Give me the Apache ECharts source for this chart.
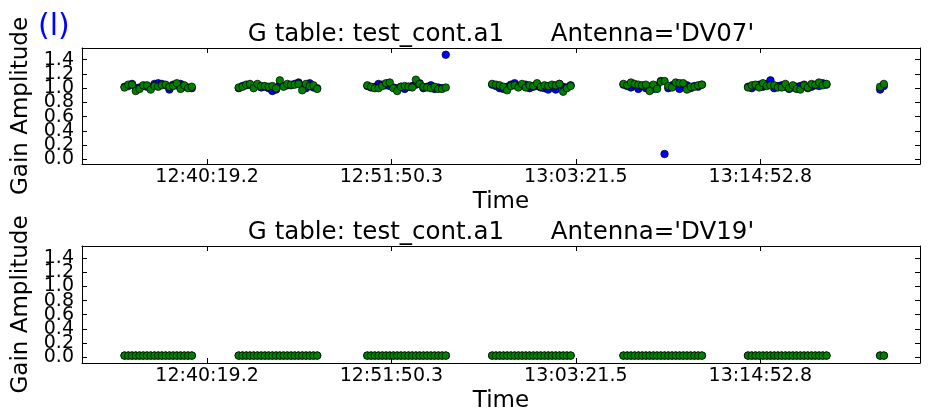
<!DOCTYPE html>
<html><head><meta charset="utf-8">
<script src="https://cdn.jsdelivr.net/npm/echarts@6/dist/echarts.min.js"></script>
<style>html,body{margin:0;padding:0;background:#fff}#c{width:938px;height:417px}</style>
</head><body><div id="c"></div>
<script>
// Time of each solution, seconds since midnight (UT)
const times = [
  45310,45324,45338,45352,45366,45380,45394,45408,45422,45436,45450,45464,45478,45492,45506,45520,45534,45548,45562,
  45738,45752,45766,45780,45794,45808,45822,45836,45850,45864,45878,45892,45906,45920,45934,45948,45962,45976,45990,46004,46018,46032,
  46220,46234,46248,46262,46276,46290,46304,46318,46332,46346,46360,46374,46388,46402,46416,46430,46444,46458,46472,46486,46500,46514,
  46688,46702,46716,46730,46744,46758,46772,46786,46800,46814,46828,46842,46856,46870,46884,46898,46912,46926,46940,46954,46968,46982,
  47180,47194,47208,47222,47236,47250,47264,47278,47292,47306,47320,47334,47348,47362,47376,47390,47404,47418,47432,47446,47460,47474,
  47647,47661,47675,47689,47703,47717,47731,47745,47759,47773,47787,47801,47815,47829,47843,47857,47871,47885,47899,47913,47927,47941,
  48142,48156
];
// DV07, polarization 1 (blue)
const dv07Pol1 = [
  1.02,1.03,1.06,1.00,1.01,1.03,1.02,1.01,1.06,1.07,1.06,1.04,0.98,1.05,1.04,1.06,1.02,1.01,1.00,
  1.00,1.03,1.04,1.05,1.02,1.04,1.01,1.02,1.00,0.96,0.98,1.05,1.03,1.04,1.04,1.06,1.08,1.03,1.00,1.07,1.01,1.00,
  1.03,1.01,1.02,1.06,1.05,1.04,1.03,1.01,1.00,1.02,0.99,1.02,1.03,1.05,1.07,1.00,1.02,1.04,0.99,1.01,1.00,1.47,
  1.05,1.03,1.00,0.99,1.02,1.05,1.07,1.03,1.04,1.05,1.00,1.02,1.03,1.01,1.00,0.98,1.03,0.98,1.06,1.02,1.01,1.04,
  1.05,1.03,1.01,1.04,0.99,1.03,1.00,1.02,0.99,1.03,1.10,0.075,1.00,1.04,1.03,0.99,1.06,1.04,1.00,1.03,1.02,1.05,
  1.02,1.00,1.03,1.05,1.02,1.06,1.11,1.00,1.03,1.04,1.02,0.99,1.01,1.02,1.03,1.05,1.00,1.02,1.04,1.03,1.07,1.05,
  0.98,1.03
];
// DV07, polarization 2 (green)
const dv07Pol2 = [
  1.01,1.05,1.05,0.96,0.99,1.04,1.04,0.98,1.03,1.02,1.04,1.05,1.02,1.03,1.07,0.99,1.04,1.00,1.02,
  1.01,1.02,1.05,1.06,1.00,1.06,1.03,1.03,1.02,1.03,1.00,1.11,1.02,1.06,1.05,1.05,1.06,0.97,1.06,1.03,1.04,0.99,
  1.04,1.02,1.00,1.00,1.03,1.07,1.08,1.00,0.96,1.02,1.03,1.02,1.01,1.12,1.06,1.02,1.01,1.00,1.02,0.99,0.99,1.01,
  1.06,1.05,1.04,1.02,0.97,1.03,1.04,1.01,1.06,1.01,1.04,1.03,1.07,1.02,1.04,1.03,1.05,1.04,1.06,0.95,1.00,1.03,
  1.06,1.04,1.08,1.06,1.05,1.04,1.05,0.96,1.05,0.99,1.09,1.10,1.03,1.01,1.08,1.07,1.07,0.98,1.02,1.02,1.04,1.05,
  1.01,1.04,1.05,1.01,1.07,1.03,1.04,1.04,1.01,1.01,1.06,1.00,1.04,0.99,0.98,1.04,1.01,1.06,1.05,1.08,1.04,1.06,
  1.02,1.06
];
// DV19, polarization 1 (blue) and 2 (green)
const dv19Pol1 = [
  0.02,0.02,0.02,0.02,0.02,0.02,0.02,0.02,0.02,0.02,0.02,0.02,0.02,0.02,0.02,0.02,0.02,0.02,0.02,
  0.02,0.02,0.02,0.02,0.02,0.02,0.02,0.02,0.02,0.02,0.02,0.02,0.02,0.02,0.02,0.02,0.02,0.02,0.02,0.02,0.02,0.02,
  0.02,0.02,0.02,0.02,0.02,0.02,0.02,0.02,0.02,0.02,0.02,0.02,0.02,0.02,0.02,0.02,0.02,0.02,0.02,0.02,0.02,0.02,
  0.02,0.02,0.02,0.02,0.02,0.02,0.02,0.02,0.02,0.02,0.02,0.02,0.02,0.02,0.02,0.02,0.02,0.02,0.02,0.02,0.02,0.02,
  0.02,0.02,0.02,0.02,0.02,0.02,0.02,0.02,0.02,0.02,0.02,0.02,0.02,0.02,0.02,0.02,0.02,0.02,0.02,0.02,0.02,0.02,
  0.02,0.02,0.02,0.02,0.02,0.02,0.02,0.02,0.02,0.02,0.02,0.02,0.02,0.02,0.02,0.02,0.02,0.02,0.02,0.02,0.02,0.02,
  0.02,0.02
];
const dv19Pol2 = [
  0.02,0.02,0.02,0.02,0.02,0.02,0.02,0.02,0.02,0.02,0.02,0.02,0.02,0.02,0.02,0.02,0.02,0.02,0.02,
  0.02,0.02,0.02,0.02,0.02,0.02,0.02,0.02,0.02,0.02,0.02,0.02,0.02,0.02,0.02,0.02,0.02,0.02,0.02,0.02,0.02,0.02,
  0.02,0.02,0.02,0.02,0.02,0.02,0.02,0.02,0.02,0.02,0.02,0.02,0.02,0.02,0.02,0.02,0.02,0.02,0.02,0.02,0.02,0.02,
  0.02,0.02,0.02,0.02,0.02,0.02,0.02,0.02,0.02,0.02,0.02,0.02,0.02,0.02,0.02,0.02,0.02,0.02,0.02,0.02,0.02,0.02,
  0.02,0.02,0.02,0.02,0.02,0.02,0.02,0.02,0.02,0.02,0.02,0.02,0.02,0.02,0.02,0.02,0.02,0.02,0.02,0.02,0.02,0.02,
  0.02,0.02,0.02,0.02,0.02,0.02,0.02,0.02,0.02,0.02,0.02,0.02,0.02,0.02,0.02,0.02,0.02,0.02,0.02,0.02,0.02,0.02,
  0.02,0.02
];
const timeTicks = [45619.2, 46310.3, 47001.5, 47692.8];
const timeTickLabels = ['12:40:19.2', '12:51:50.3', '13:03:21.5', '13:14:52.8'];
const ampTicks = [0, 0.2, 0.4, 0.6, 0.8, 1.0, 1.2, 1.4];
const ampTickLabels = ['0.0', '0.2', '0.4', '0.6', '0.8', '1.0', '1.2', '1.4'];
const panelTitles = ["G table: test_cont.a1      Antenna='DV07'", "G table: test_cont.a1      Antenna='DV19'"];
const panelTag = '(l)';

const FONT = 'DejaVu Sans';
const chart = echarts.init(document.getElementById('c'), null, {renderer: 'canvas'});
const lookup = (ticks, labels) => v => {
  const i = ticks.findIndex(t => Math.abs(t - v) < 1e-6);
  return i >= 0 ? labels[i] : '';
};
const pair = (xs, ys) => xs.map((x, i) => [x, ys[i]]);
// the tick labels overlap in the original; split them over two label layers so none is dropped
const evenTicks = ampTicks.filter((v, i) => i % 2 === 0);
const oddTicks = ampTicks.filter((v, i) => i % 2 === 1);

const grids = [
  {left: 82, top: 48, width: 838, height: 116, ymin: -0.066, ymax: 1.565},
  {left: 82, top: 246, width: 838, height: 117, ymin: -0.085, ymax: 1.574}
];
const XMIN = 45150.5, XMAX = 48291.5;
const line = {show: true, onZero: false, lineStyle: {color: '#000', width: 1}};
const tick = (vals) => ({show: true, inside: true, length: 5, customValues: vals, lineStyle: {color: '#000', width: 1}});
const yLabel = (vals) => ({customValues: vals, formatter: lookup(ampTicks, ampTickLabels), showMinLabel: true, showMaxLabel: true,
  hideOverlap: false, fontFamily: FONT, fontSize: 19, color: '#000', margin: 8});

const xAxes = [], yAxes = [], series = [];
grids.forEach((g, gi) => {
  xAxes.push({
    type: 'value', gridIndex: gi, position: 'bottom', min: XMIN, max: XMAX,
    axisLine: line, splitLine: {show: false}, axisTick: tick(timeTicks),
    axisLabel: {customValues: timeTicks, formatter: lookup(timeTicks, timeTickLabels), showMinLabel: true, showMaxLabel: true,
      fontFamily: FONT, fontSize: 19, color: '#000', margin: 4},
    name: 'Time', nameLocation: 'middle', nameGap: 27,
    nameTextStyle: {fontFamily: FONT, fontSize: 23, color: '#000'}
  });
  xAxes.push({
    type: 'value', gridIndex: gi, position: 'top', min: XMIN, max: XMAX,
    axisLine: line, splitLine: {show: false}, axisTick: tick(timeTicks), axisLabel: {show: false}
  });
  yAxes.push({
    type: 'value', gridIndex: gi, position: 'left', min: g.ymin, max: g.ymax,
    axisLine: line, splitLine: {show: false}, axisTick: tick(ampTicks),
    axisLabel: yLabel(evenTicks),
    name: 'Gain Amplitude', nameLocation: 'middle', nameRotate: 90, nameGap: 49,
    nameTextStyle: {fontFamily: FONT, fontSize: 23, color: '#000'}
  });
  yAxes.push({
    type: 'value', gridIndex: gi, position: 'right', min: g.ymin, max: g.ymax,
    axisLine: line, splitLine: {show: false}, axisTick: tick(ampTicks), axisLabel: {show: false}
  });
  yAxes.push({
    type: 'value', gridIndex: gi, position: 'left', offset: 0, min: g.ymin, max: g.ymax,
    axisLine: {show: false}, splitLine: {show: false}, axisTick: {show: false},
    axisLabel: yLabel(oddTicks)
  });
});

const mk = (name, data, xi, yi, color) => ({
  type: 'scatter', name, data, xAxisIndex: xi, yAxisIndex: yi,
  symbol: 'circle', symbolSize: 7.5, animation: false, silent: true,
  itemStyle: {color, borderColor: '#000', borderWidth: 0.7, opacity: 1}
});
series.push(mk('DV07 pol1', pair(times, dv07Pol1), 0, 0, '#0000ff'));
series.push(mk('DV07 pol2', pair(times, dv07Pol2), 0, 0, '#008000'));
series.push(mk('DV19 pol1', pair(times, dv19Pol1), 2, 3, '#0000ff'));
series.push(mk('DV19 pol2', pair(times, dv19Pol2), 2, 3, '#008000'));

chart.setOption({
  animation: false,
  backgroundColor: '#fff',
  grid: grids.map(g => ({left: g.left, top: g.top, width: g.width, height: g.height, containLabel: false, outerBoundsMode: 'none', show: false})),
  xAxis: xAxes,
  yAxis: yAxes,
  series,
  graphic: [
    {type: 'text', x: 501, y: 22, style: {text: panelTitles[0], font: '24.5px "DejaVu Sans"', fill: '#000', align: 'center', verticalAlign: 'top'}},
    {type: 'text', x: 501, y: 220, style: {text: panelTitles[1], font: '24.5px "DejaVu Sans"', fill: '#000', align: 'center', verticalAlign: 'top'}},
    {type: 'text', x: 38, y: 12, style: {text: panelTag, font: '30px "DejaVu Sans"', fill: '#0000ff', align: 'left', verticalAlign: 'top'}}
  ]
});
</script>
</body></html>
